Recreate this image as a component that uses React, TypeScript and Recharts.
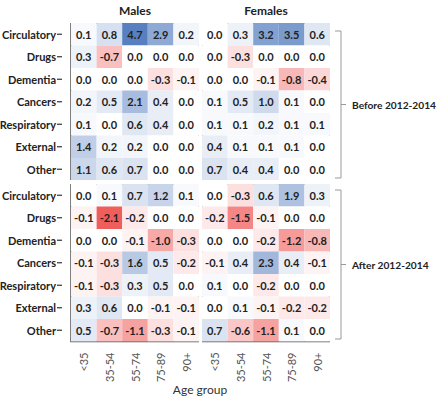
import { ReferenceArea, Scatter, ScatterChart, XAxis, YAxis } from 'recharts';

const ages = ['<35', '35-54', '55-74', '75-89', '90+'];
const causes = ['Circulatory', 'Drugs', 'Dementia', 'Cancers', 'Respiratory', 'External', 'Other'];

// rows follow `causes`, columns follow `ages`
const malesBefore = [
  [0.1, 0.8, 4.7, 2.9, 0.2],
  [0.3, -0.7, 0.0, 0.0, 0.0],
  [0.0, 0.0, 0.0, -0.3, -0.1],
  [0.2, 0.5, 2.1, 0.4, 0.0],
  [0.1, 0.0, 0.6, 0.4, 0.0],
  [1.4, 0.2, 0.2, 0.0, 0.0],
  [1.1, 0.6, 0.7, 0.0, 0.0],
];
const femalesBefore = [
  [0.0, 0.3, 3.2, 3.5, 0.6],
  [0.0, -0.3, 0.0, 0.0, 0.0],
  [0.0, 0.0, -0.1, -0.8, -0.4],
  [0.1, 0.5, 1.0, 0.1, 0.0],
  [0.1, 0.1, 0.2, 0.1, 0.1],
  [0.4, 0.1, 0.1, 0.1, 0.0],
  [0.7, 0.4, 0.4, 0.0, 0.0],
];
const malesAfter = [
  [0.0, 0.1, 0.7, 1.2, 0.1],
  [-0.1, -2.1, -0.2, 0.0, 0.0],
  [0.0, 0.0, -0.1, -1.0, -0.3],
  [-0.1, -0.3, 1.6, 0.5, -0.2],
  [-0.1, -0.3, 0.3, 0.5, 0.0],
  [0.3, 0.6, 0.0, -0.1, -0.1],
  [0.5, -0.7, -1.1, -0.3, -0.1],
];
const femalesAfter = [
  [0.0, -0.3, 0.6, 1.9, 0.3],
  [-0.2, -1.5, -0.1, 0.0, 0.0],
  [0.0, 0.0, -0.2, -1.2, -0.8],
  [-0.1, 0.4, 2.3, 0.4, -0.1],
  [0.1, 0.0, -0.2, 0.0, 0.0],
  [0.0, 0.1, -0.1, -0.2, -0.2],
  [0.7, -0.6, -1.1, 0.1, 0.0],
];

const FONT = 'Lato, "Open Sans", sans-serif';
const PW = 128;
const PH = 157.5;
const CW = PW / ages.length;
const CH = PH / causes.length;
const Y_W = 71;
const X_H = 50;

function toCells(grid: number[][]) {
  const out: { x: number; y: number; v: number }[] = [];
  grid.forEach((row, r) => row.forEach((v, c) => out.push({ x: c, y: r, v })));
  return out;
}

function mix(a: number[], t: number) {
  const k = Math.min(1, Math.max(0, t));
  return `rgb(${a.map((ch) => Math.round(255 + (ch - 255) * k)).join(',')})`;
}

function cellColor(v: number) {
  if (v >= 0) return mix([88, 128, 192], Math.pow(v / 4.7, 0.8));
  return mix([240, 94, 92], Math.pow(-v / 2.1, 0.85));
}

function CellShape(props: any) {
  const { cx, cy, payload } = props;
  return (
    <g>
      <rect x={cx - CW / 2} y={cy - CH / 2} width={CW} height={CH} fill={cellColor(payload.v)} />
      <text x={cx} y={cy} textAnchor="middle" dominantBaseline="central" fontFamily={FONT} fontWeight={700} fontSize={11} fill="#222">
        {payload.v.toFixed(1)}
      </text>
    </g>
  );
}

function AgeTick(props: any) {
  const { x, y, payload } = props;
  return (
    <text x={x} y={y} transform={`rotate(-90 ${x} ${y})`} textAnchor="end" dominantBaseline="central" fontFamily={FONT} fontSize={11} fill="#555">
      {ages[payload.value]}
    </text>
  );
}

function CauseTick(props: any) {
  const { y, payload } = props;
  return (
    <g>
      <text x={Y_W - 15} y={y} textAnchor="end" dominantBaseline="central" fontFamily={FONT} fontWeight={700} fontSize={11} fill="#222">
        {causes[payload.value]}
      </text>
      <line x1={Y_W - 14} x2={Y_W - 9} y1={y} y2={y} stroke="#333" strokeWidth={1.2} />
    </g>
  );
}

function Panel({ grid, left, top, showY, showX }: { grid: number[][]; left: number; top: number; showY: boolean; showX: boolean }) {
  const yW = showY ? Y_W : 0;
  const xH = showX ? X_H : 0;
  return (
    <div style={{ position: 'absolute', left: left - yW, top }}>
      <ScatterChart width={yW + PW} height={PH + xH} margin={{ top: 0, right: 0, bottom: 0, left: 0 }}>
        <XAxis
          type="number"
          dataKey="x"
          domain={[-0.5, 4.5]}
          ticks={[0, 1, 2, 3, 4]}
          interval={0}
          hide={!showX}
          height={xH}
          axisLine={false}
          tickLine={false}
          tickMargin={5}
          tick={<AgeTick />}
        />
        <YAxis
          type="number"
          dataKey="y"
          domain={[-0.5, 6.5]}
          ticks={[0, 1, 2, 3, 4, 5, 6]}
          interval={0}
          reversed
          hide={!showY}
          width={yW}
          axisLine={false}
          tickLine={false}
          tick={<CauseTick />}
        />
        <Scatter data={toCells(grid)} isAnimationActive={false} shape={<CellShape />} />
        <ReferenceArea x1={-0.5} x2={4.5} y1={-0.5} y2={6.5} fill="none" stroke="#555" strokeWidth={1.5} ifOverflow="visible" />
      </ScatterChart>
    </div>
  );
}

function Bracket({ top, bottom, label }: { top: number; bottom: number; label: string }) {
  const mid = (top + bottom) / 2;
  return (
    <g>
      <path d={`M335 ${top} H341 V${bottom} H335`} fill="none" stroke="#999" strokeWidth={1} />
      <line x1={341} x2={346} y1={mid} y2={mid} stroke="#999" strokeWidth={1} />
      <text x={352} y={mid} dominantBaseline="central" fontFamily={FONT} fontWeight={700} fontSize={10.2} fill="#222">
        {label}
      </text>
    </g>
  );
}

export default function App() {
  return (
    <div style={{ position: 'absolute', left: 0, top: 0, width: 438, height: 397, background: '#fff', overflow: 'hidden' }}>
      <Panel grid={malesBefore} left={71} top={22.7} showY showX={false} />
      <Panel grid={femalesBefore} left={202} top={22.7} showY={false} showX={false} />
      <Panel grid={malesAfter} left={71} top={183.5} showY showX />
      <Panel grid={femalesAfter} left={202} top={183.5} showY={false} showX />
      <svg width={438} height={397} style={{ position: 'absolute', left: 0, top: 0, pointerEvents: 'none' }}>
        <text x={135} y={10} textAnchor="middle" dominantBaseline="central" fontFamily={FONT} fontWeight={700} fontSize={12} fill="#222">
          Males
        </text>
        <text x={266} y={10} textAnchor="middle" dominantBaseline="central" fontFamily={FONT} fontWeight={700} fontSize={12} fill="#222">
          Females
        </text>
        <Bracket top={31} bottom={178} label="Before 2012-2014" />
        <Bracket top={190} bottom={339} label="After 2012-2014" />
        <text x={200} y={389} textAnchor="middle" dominantBaseline="central" fontFamily={FONT} fontSize={12} fill="#333">
          Age group
        </text>
      </svg>
    </div>
  );
}
